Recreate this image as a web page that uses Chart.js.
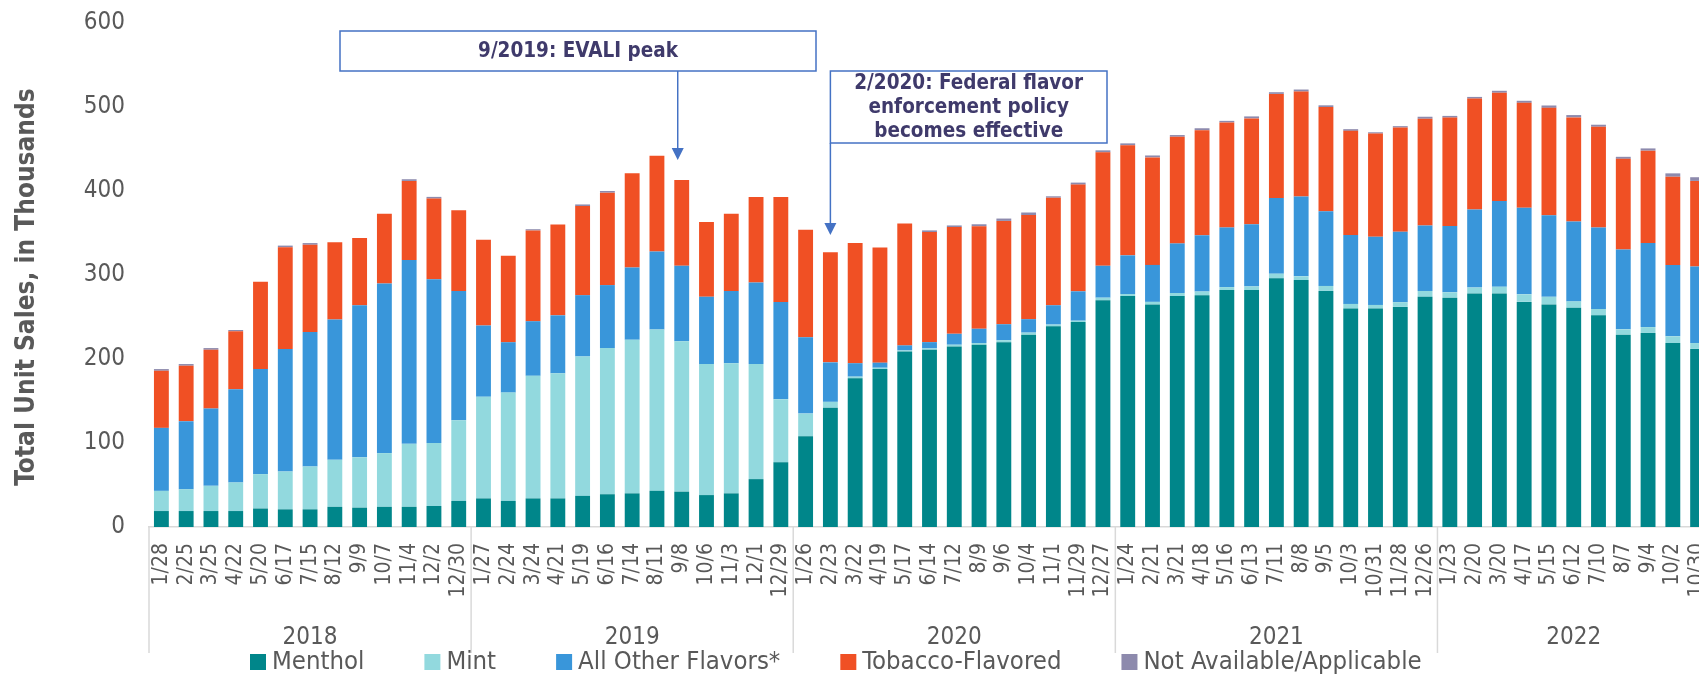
<!DOCTYPE html>
<html>
<head>
<meta charset="utf-8">
<script src="https://cdn.jsdelivr.net/npm/chart.js@4"></script>
<style>
  html, body { margin: 0; padding: 0; background: #fff; overflow: hidden; }
  #wrap { position: relative; width: 1710px; height: 676px; }
</style>
</head>
<body>
<div id="wrap"><canvas id="chart" width="1710" height="676"></canvas></div>
<script>
// semaines (fin de période de 4 semaines)
const weeks = [
  '1/28','2/25','3/25','4/22','5/20','6/17','7/15','8/12','9/9','10/7','11/4','12/2','12/30',
  '1/27','2/24','3/24','4/21','5/19','6/16','7/14','8/11','9/8','10/6','11/3','12/1','12/29',
  '1/26','2/23','3/22','4/19','5/17','6/14','7/12','8/9','9/6','10/4','11/1','11/29','12/27',
  '1/24','2/21','3/21','4/18','5/16','6/13','7/11','8/8','9/5','10/3','10/31','11/28','12/26',
  '1/23','2/20','3/20','4/17','5/15','6/12','7/10','8/7','9/4','10/2','10/30'
];
const years = ['2018', '2019', '2020', '2021', '2022'];
const yearSizes = [13, 13, 13, 13, 11];

// unités vendues, en milliers
const menthol = [19,19,19,19,22,21,21,24,23,24,24,25,31,
  34,31,34,34,37,39,40,43,42,38,40,57,77,
  108,142,177,188,209,211,215,217,220,229,239,244,270,
  275,265,275,276,282,282,296,294,281,260,260,262,274,
  273,278,278,268,265,261,252,229,231,219,212];
const mint = [24,26,30,34,41,45,51,56,60,64,75,75,96,
  121,129,146,149,166,174,183,192,179,156,155,137,75,
  27,7,2,1.6,1.2,1.6,2,2,2.4,2.4,2,1.6,3,
  2.4,3,3.6,4.3,3.6,4.4,5.6,4.4,6,5.6,4.4,5.6,7,
  6.4,7,8,9,9,7.6,7.5,6.3,7,8,7];
const otherFlavors = [75,81,92,111,125,146,160,167,181,202,219,195,154,
  85,60,65,69,73,75,86,93,90,80,86,97,116,
  91,47,16,6,6,7.5,13,17,19,16,23,35,38,
  46,44,59,67,71,74,90,95,89,82,81,84,78,
  79,93,102,103,97,95,97,95,100,85,91];
const tobacco = [68,66,70,69,104,121,104,92,80,83,94,96,96,
  102,103,108,108,106,110,112,114,102,89,92,102,125,
  128,131,143,137,145,131,127,122,123,124,128,127,135,
  131,128,127,125,125,126,124,125,124,124,123,124,127,
  129,132,129,125,128,124,120,108,110,105,102];
const notAvailable = [2,2,2,1.5,0,2,2,0,0,0,2,2,0,
  0,0,1.5,0,2,2,0,0,0,0,0,0,0,
  0,0,0,0,0,2,2,2.4,2.8,3,1.7,2.4,2.4,
  2.3,2.3,2,2.4,1.9,2.4,2,2.4,2,2,1.5,1.6,2.4,
  2,2,2.3,2.4,2.8,2.8,2.4,2.4,2.7,4,4.4];

const FONT = "'DejaVu Sans Condensed', 'DejaVu Sans', sans-serif";
const GREY = '#595959';

// titre de l'axe y (un peu sous le centre, comme l'original)
const yTitle = {
  id: 'yTitle',
  afterDraw(chart) {
    const { ctx } = chart;
    ctx.save();
    ctx.translate(27, 287);
    ctx.rotate(-Math.PI / 2);
    ctx.font = 'bold 26px ' + FONT;
    ctx.fillStyle = GREY;
    ctx.textAlign = 'center';
    ctx.textBaseline = 'middle';
    ctx.fillText('Total Unit Sales, in Thousands', 0, 0);
    ctx.restore();
  }
};

// groupes d'années sous l'axe x
const yearGroups = {
  id: 'yearGroups',
  afterDraw(chart) {
    const { ctx, chartArea, scales: { x } } = chart;
    const step = x.getPixelForValue(1) - x.getPixelForValue(0);
    ctx.save();
    ctx.strokeStyle = '#D9D9D9';
    ctx.lineWidth = 1.5;
    ctx.fillStyle = GREY;
    ctx.font = '24px ' + FONT;
    ctx.textAlign = 'center';
    ctx.textBaseline = 'middle';
    let start = 0;
    years.forEach((yr, i) => {
      const left = x.getPixelForValue(start) - step / 2;
      const right = x.getPixelForValue(start + yearSizes[i] - 1) + step / 2;
      ctx.beginPath();
      ctx.moveTo(left, chartArea.bottom);
      ctx.lineTo(left, 653);
      ctx.stroke();
      ctx.fillText(yr, (left + right) / 2, 638);
      start += yearSizes[i];
    });
    ctx.restore();
  }
};

// légende maison (espacement comme l'original)
const bottomLegend = {
  id: 'bottomLegend',
  afterDraw(chart) {
    const { ctx } = chart;
    ctx.save();
    ctx.font = '25.5px ' + FONT;
    ctx.textBaseline = 'middle';
    ctx.textAlign = 'left';
    let px = 250;
    const cy = 662;
    chart.data.datasets.forEach(ds => {
      ctx.fillStyle = ds.backgroundColor;
      ctx.fillRect(px, cy - 8, 16, 16);
      ctx.fillStyle = GREY;
      ctx.fillText(ds.label, px + 22, cy);
      px += 22 + ctx.measureText(ds.label).width + 60;
    });
    ctx.restore();
  }
};

// encadrés + flèches
const callouts = {
  id: 'callouts',
  afterDraw(chart) {
    const { ctx, scales: { x } } = chart;
    const blue = '#4472C4';
    ctx.save();
    ctx.strokeStyle = blue;
    ctx.fillStyle = blue;
    ctx.lineWidth = 1.5;

    function arrow(ax, y0, y1) {
      ctx.beginPath();
      ctx.moveTo(ax, y0);
      ctx.lineTo(ax, y1 - 11);
      ctx.stroke();
      ctx.beginPath();
      ctx.moveTo(ax - 6, y1 - 12);
      ctx.lineTo(ax + 6, y1 - 12);
      ctx.lineTo(ax, y1);
      ctx.closePath();
      ctx.fill();
    }

    const a1 = x.getPixelForValue(21) - 4;
    const a2 = x.getPixelForValue(27);

    ctx.fillStyle = '#fff';
    ctx.fillRect(340, 31, 476, 40);
    ctx.strokeRect(340, 31, 476, 40);
    ctx.fillRect(a2, 71, 1107 - a2, 72);
    ctx.strokeRect(a2, 71, 1107 - a2, 72);

    ctx.fillStyle = blue;
    arrow(a1, 71, 160);
    arrow(a2, 143, 235);

    ctx.fillStyle = '#3F3A6B';
    ctx.font = 'bold 20.5px ' + FONT;
    ctx.textAlign = 'center';
    ctx.textBaseline = 'middle';
    ctx.fillText('9/2019: EVALI peak', 578, 52);
    const cx2 = (a2 + 1107) / 2;
    ctx.fillText('2/2020: Federal flavor', cx2, 84);
    ctx.fillText('enforcement policy', cx2, 108);
    ctx.fillText('becomes effective', cx2, 132);
    ctx.restore();
  }
};

Chart.defaults.font.family = FONT;
Chart.defaults.color = GREY;

const seriesDef = [
  ['Menthol', menthol, '#00868A'],
  ['Mint', mint, '#92D9DE'],
  ['All Other Flavors*', otherFlavors, '#3996DA'],
  ['Tobacco-Flavored', tobacco, '#F05024'],
  ['Not Available/Applicable', notAvailable, '#8D8AAD']
];

new Chart(document.getElementById('chart').getContext('2d'), {
  type: 'bar',
  data: {
    labels: weeks,
    datasets: seriesDef.map(([label, data, color]) => ({
      label, data,
      backgroundColor: color,
      borderWidth: 0,
      barPercentage: 0.6,
      categoryPercentage: 1
    }))
  },
  options: {
    responsive: false,
    animation: false,
    layout: { padding: { top: 23, right: 0, left: 0, bottom: 0 } },
    plugins: {
      legend: { display: false },
      tooltip: { enabled: false }
    },
    scales: {
      x: {
        stacked: true,
        grid: { display: false, drawTicks: false },
        border: { display: true, color: '#D9D9D9', width: 1.5 },
        ticks: {
          autoSkip: false, maxRotation: 90, minRotation: 90,
          padding: 16, color: GREY, font: { size: 21 }
        },
        afterFit(s) {
          s.height = 149;
          s.paddingLeft = 0;
          s.paddingRight = 0;
        }
      },
      y: {
        stacked: true,
        min: 0, max: 600,
        grid: { display: false, drawTicks: false },
        border: { display: false },
        ticks: { stepSize: 100, padding: 24, color: GREY, font: { size: 24 } },
        afterFit(s) {
          s.width = 149;
          s.paddingTop = 0;
          s.paddingBottom = 0;
        }
      }
    }
  },
  plugins: [yTitle, yearGroups, bottomLegend, callouts]
});
</script>
</body>
</html>
